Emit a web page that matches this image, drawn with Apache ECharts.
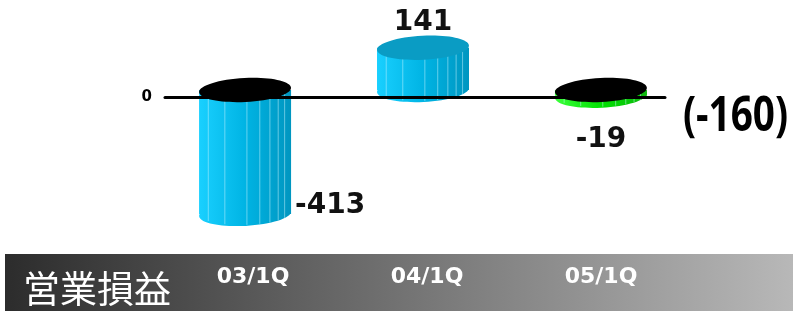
<!DOCTYPE html>
<html>
<head>
<meta charset="utf-8">
<script src="https://cdn.jsdelivr.net/npm/echarts@6/dist/echarts.min.js"></script>
<style>
  html, body { margin: 0; padding: 0; background: #fff; }
  #chart { width: 793px; height: 313px; }
</style>
</head>
<body>
<div id="chart"></div>
<script>
// 営業損益 (四半期)
var categories = ['03/1Q', '04/1Q', '05/1Q']
var values = [-413, 141, -19]
var total = -160
var rowTitle = '営業損益'
var labelSide = ['right', 'top', 'bottom'] // 数値ラベルの位置

// 円柱の色 (左明るい -> 右暗い)
var bodyColors = [
  ['#19d0ff', '#00b4e4', '#0096c0'],
  ['#19d0ff', '#00b4e4', '#0096c0'],
  ['#3cff3c', '#00e000', '#10b810']
]
var capColor = '#0a9cc4'

var stripes = [0.1, 0.28, 0.52, 0.66, 0.77, 0.86, 0.93]

function renderItem (params, api) {
  var i = params.dataIndex
  var x = api.value(0)
  var v = api.value(1)
  var p0 = api.coord([x, 0])
  var p1 = api.coord([x, v])
  var cx = p0[0]
  var rx = api.size([0.517, 0])[0] / 2
  var ry = 12
  var lift = 7 // 奥行き
  var yTop = Math.min(p0[1], p1[1]) - lift
  var yBot = Math.max(p0[1], p1[1]) - lift
  var c = bodyColors[i]
  var grad = new echarts.graphic.LinearGradient(0, 0, 1, 0, [
    { offset: 0, color: c[0] },
    { offset: 0.5, color: c[1] },
    { offset: 1, color: c[2] }
  ])
  var rot = 0.05
  var children = [
    {
      type: 'ellipse',
      shape: { cx: cx, cy: yBot, rx: rx, ry: ry },
      rotation: rot, originX: cx, originY: yBot,
      style: { fill: grad }
    },
    {
      type: 'rect',
      shape: { x: cx - rx, y: yTop, width: rx * 2, height: yBot - yTop },
      style: { fill: grad }
    }
  ]
  stripes.forEach(function (f) {
    var t = (f - 0.5) * 2
    var lx = cx - rx + f * rx * 2
    var ly = yBot + ry * Math.sqrt(1 - t * t) - ry * t * rot * 2
    children.push({
      type: 'line',
      shape: { x1: lx, y1: yTop, x2: lx, y2: ly - 1 },
      style: { stroke: 'rgba(200,245,255,0.5)', lineWidth: 1 }
    })
  })
  children.push({
    type: 'ellipse',
    shape: { cx: cx, cy: yTop, rx: rx, ry: ry },
    rotation: rot, originX: cx, originY: yTop,
    style: { fill: v < 0 ? '#000' : capColor }
  })
  var side = labelSide[i]
  var lt = { text: String(v), fill: '#111', font: 'bold 28px "DejaVu Sans"', verticalAlign: 'middle' }
  if (side === 'right') {
    lt.x = cx + rx + 4; lt.y = yBot - 8; lt.align = 'left'
  } else if (side === 'top') {
    lt.x = cx; lt.y = yTop - ry - 13; lt.align = 'center'
  } else {
    lt.x = cx; lt.y = yBot + ry + 32; lt.align = 'center'
  }
  children.push({ type: 'text', style: lt })
  return { type: 'group', children: children }
}

var chart = echarts.init(document.getElementById('chart'))
var option = {
  animation: false,
  grid: [
    { left: 165, right: 128, top: 19, bottom: 72 },
    { left: 166, right: 105, top: 262, height: 1 }
  ],
  xAxis: [
    {
      type: 'value',
      gridIndex: 0,
      min: -0.45,
      max: 2.36,
      z: 10,
      axisLine: { onZero: true, lineStyle: { color: '#000', width: 3 } },
      axisTick: { show: false },
      axisLabel: { show: false },
      splitLine: { show: false }
    },
    {
      type: 'category',
      gridIndex: 1,
      data: categories,
      axisLine: { show: false },
      axisTick: { show: false },
      axisLabel: {
        color: '#fff',
        fontSize: 22,
        fontWeight: 'bold',
        fontFamily: 'DejaVu Sans',
        margin: 3
      }
    }
  ],
  yAxis: [
    {
      type: 'value',
      gridIndex: 0,
      min: -480,
      max: 260,
      axisLine: { show: false },
      axisTick: { show: false },
      splitLine: { show: false },
      axisLabel: {
        margin: 13,
        color: '#000',
        fontSize: 15,
        fontWeight: 'bold',
        fontFamily: 'DejaVu Sans',
        formatter: function (val) { return val === 0 ? '0' : '' }
      }
    },
    { type: 'value', gridIndex: 1, show: false }
  ],
  graphic: [
    {
      type: 'rect',
      left: 5,
      top: 254,
      z: -1,
      shape: { width: 788, height: 57 },
      style: {
        fill: new echarts.graphic.LinearGradient(0, 0, 1, 0, [
          { offset: 0, color: '#2c2c2c' },
          { offset: 1, color: '#b8b8b8' }
        ])
      }
    },
    {
      type: 'text',
      left: 23,
      top: 270,
      style: { text: rowTitle, fill: '#fff', font: '37px "Noto Sans CJK JP"' }
    },
    {
      type: 'text',
      x: 683,
      y: 117,
      scaleX: 0.79,
      style: {
        x: 0,
        y: 0,
        text: '(' + total + ')',
        fill: '#000',
        font: 'bold 49px "Open Sans"',
        verticalAlign: 'middle'
      }
    }
  ],
  series: [
    {
      type: 'custom',
      xAxisIndex: 0,
      yAxisIndex: 0,
      z: 2,
      renderItem: renderItem,
      data: values.map(function (v, i) { return [i, v] })
    }
  ]
}
chart.setOption(option)
</script>
</body>
</html>
